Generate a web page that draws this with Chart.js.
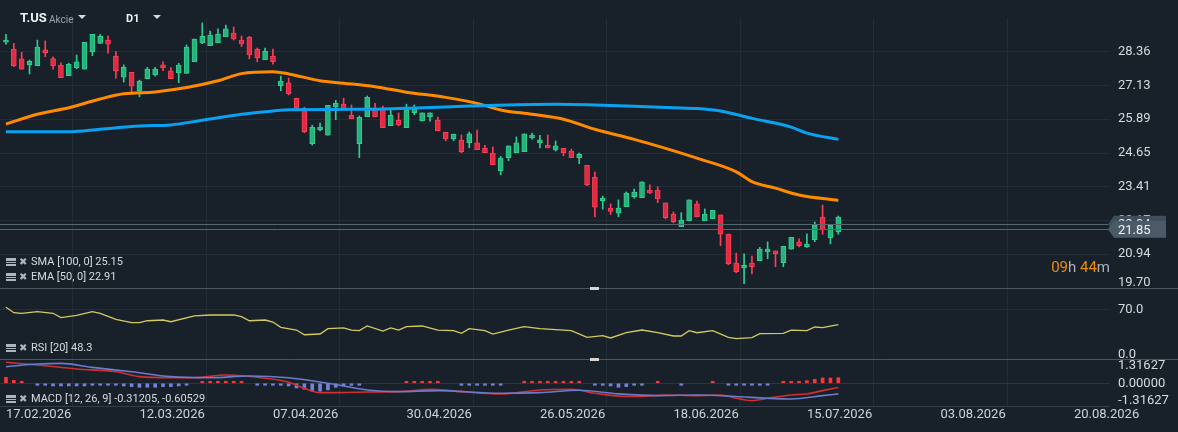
<!DOCTYPE html>
<html>
<head>
<meta charset="utf-8">
<script src="https://cdn.jsdelivr.net/npm/chart.js@4.4.1/dist/chart.umd.min.js"></script>
<style>
  html, body { margin: 0; padding: 0; background: #18212a; }
  #wrap { position: relative; width: 1178px; height: 432px; }
</style>
</head>
<body>
<div id="wrap"><canvas id="chart" width="1178" height="432"></canvas></div>
<script>
// daily candles
const opens  = [28.71,28.46,28.10,27.89,27.85,28.43,28.11,27.87,27.49,27.78,27.72,28.37,28.67,28.79,28.20,27.43,27.61,26.93,27.38,27.51,27.88,27.66,27.60,27.57,28.00,28.70,28.59,28.70,28.92,29.04,28.79,28.89,28.46,28.07,28.20,27.12,27.22,26.66,26.29,24.99,25.50,25.30,26.34,26.44,26.03,24.99,25.98,26.29,26.25,25.65,25.85,25.58,26.13,25.83,25.98,25.86,25.41,25.17,25.12,25.03,25.02,24.82,24.65,24.00,24.48,24.66,24.70,25.21,25.03,24.93,24.76,24.82,24.72,24.48,24.20,23.76,22.90,22.63,22.44,22.68,23.05,23.01,23.29,23.29,22.82,22.41,21.95,22.17,22.79,22.17,22.24,22.38,21.68,20.61,20.44,20.61,20.70,21.03,21.06,20.63,21.12,21.39,21.21,21.47,22.30,21.54,21.76]
const highs  = [29.00,28.67,28.34,28.06,28.79,28.76,28.18,27.96,27.94,28.24,28.71,29.00,29.00,28.95,28.37,27.88,27.61,27.32,27.79,27.79,27.99,27.78,27.94,28.61,28.83,29.42,29.12,29.20,29.34,29.27,28.94,28.93,28.50,28.50,28.46,27.47,27.40,26.66,26.33,25.67,25.75,26.40,26.58,26.66,26.41,26.01,26.74,26.47,26.37,26.23,26.12,26.44,26.41,26.12,26.12,25.97,25.41,25.34,25.31,25.42,25.49,24.93,24.87,24.53,24.91,25.24,25.35,25.38,25.30,25.31,25.09,24.82,24.79,24.65,24.20,23.95,23.07,22.78,22.93,23.22,23.33,23.59,23.48,23.41,22.82,22.49,22.46,22.93,22.89,22.60,22.55,22.38,21.68,20.98,20.95,20.87,21.19,21.39,21.06,21.23,21.56,21.50,21.69,22.12,22.74,22.01,22.34]
const lows   = [28.64,27.82,27.72,27.55,27.85,28.18,27.72,27.41,27.49,27.74,27.72,28.22,28.67,28.31,27.39,27.25,26.88,26.71,27.38,27.47,27.67,27.38,27.23,27.57,28.00,28.66,28.59,28.70,28.92,28.79,28.55,28.10,28.00,28.07,27.91,26.93,26.78,26.26,25.39,24.94,25.46,25.30,25.87,26.28,25.91,24.48,25.98,25.98,25.58,25.65,25.64,25.58,26.05,25.83,25.82,25.47,25.10,25.10,24.66,24.84,24.77,24.66,24.22,23.85,24.37,24.66,24.70,25.16,24.84,24.84,24.72,24.55,24.48,24.26,23.45,22.31,22.59,22.39,22.31,22.68,22.99,23.01,23.16,22.83,22.23,22.09,21.95,22.17,22.31,22.17,22.24,21.25,20.55,20.26,19.86,20.22,20.70,20.77,20.48,20.48,21.12,21.21,21.19,21.40,21.67,21.32,21.67]
const closes = [28.79,27.85,27.72,28.01,28.53,28.33,27.85,27.41,27.90,27.99,28.71,29.00,28.93,28.64,27.67,27.79,27.10,27.29,27.73,27.73,27.78,27.38,27.87,28.53,28.83,28.93,28.97,29.01,29.20,28.83,28.65,28.25,28.15,28.39,28.00,27.29,26.83,26.31,25.43,25.59,25.60,26.40,26.47,26.28,25.91,25.96,26.69,25.98,25.58,26.03,25.68,26.24,26.28,26.12,26.12,25.47,25.17,25.34,24.70,25.35,24.77,24.66,24.22,24.46,24.91,25.02,25.35,25.31,25.13,24.84,24.91,24.66,24.48,24.60,23.49,22.66,23.00,22.51,22.63,23.18,23.22,23.59,23.19,22.97,22.28,22.13,22.19,22.93,22.31,22.41,22.55,21.67,20.59,20.30,20.53,20.48,21.13,21.13,20.96,21.23,21.56,21.25,21.31,22.01,21.83,22.01,22.30]

// SMA 100 and EMA 50, sampled at bar numbers
const smaIdx  = [0, 8, 12, 17, 21, 25, 30, 34, 36, 44, 53, 59, 70, 74, 80, 85, 88, 91, 95, 100, 102, 106]
const smaVals = [25.43,25.43,25.52,25.64,25.68,25.85,26.07,26.19,26.24,26.25,26.31,26.37,26.44,26.42,26.36,26.31,26.28,26.19,25.92,25.60,25.38,25.15]
const emaIdx  = [0, 4, 8, 12, 15, 19, 23, 27, 30, 34, 36, 40, 43, 47, 51, 56, 60, 63, 67, 71, 75, 80, 84, 88, 93, 95, 98, 101, 106]
const emaVals = [25.71,26.07,26.31,26.63,26.82,26.89,27.05,27.30,27.56,27.63,27.55,27.30,27.21,27.08,26.88,26.69,26.47,26.23,26.07,25.89,25.52,25.15,24.82,24.46,23.96,23.60,23.36,23.11,22.91]

// RSI 20
const rsiIdx  = [0,1,2,4,6,7,9,11,12,14,16,17,18,20,21,24,26,29,30,31,33,34,35,37,38,40,41,43,44,45,46,48,49,50,51,53,55,57,58,59,61,62,64,66,68,72,74,76,77,79,81,83,85,86,87,88,90,92,93,95,96,99,100,102,103,104,106]
const rsiVals = [72.8,65.2,64.4,66.6,64.4,58.2,61.5,66.6,64.4,55.9,51.1,51.1,53.9,54.9,52.5,60.6,62.0,62.0,59.6,53.9,54.9,52.1,44.6,40.8,34.2,35.2,42.7,43.7,40.8,39.9,46.5,39.4,43.7,40.8,45.5,46.5,40.8,39.9,36.2,42.7,39.9,35.2,40.8,45.5,42.7,39.9,30.6,33.0,29.6,37.0,40.8,37.0,32.4,32.4,39.9,37.0,39.9,30.6,28.6,30.0,35.6,36.2,40.8,39.9,45.1,44.1,48.3]

// MACD 12/26/9
const macdIdx    = [0,4,9,14,17,21,24,28,33,36,38,40,42,46,50,54,58,63,68,72,75,79,81,84,88,91,93,95,97,100,102,104,106]
const macdVals   = [1.58,1.38,1.08,0.87,0.50,0.42,0.42,0.62,0.38,0.08,-0.38,-0.70,-0.70,-0.65,-0.63,-0.45,-0.63,-0.80,-0.50,-0.45,-0.75,-1.00,-1.00,-0.88,-0.93,-0.88,-1.13,-1.31,-1.13,-0.88,-0.80,-0.55,-0.31]
const signalIdx  = [0,4,7,11,16,21,26,31,36,41,46,50,55,63,68,73,78,83,88,93,97,100,104,106]
const signalVals = [1.25,1.45,1.50,1.20,0.87,0.50,0.42,0.55,0.42,0.00,-0.50,-0.63,-0.55,-0.75,-0.70,-0.52,-0.80,-0.93,-0.88,-1.00,-1.13,-1.18,-0.93,-0.80]
const histVals = [0.45,0.22,0.07,0,-0.05,-0.05,-0.2,-0.2,-0.2,-0.2,-0.2,-0.12,-0.07,-0.07,-0.12,-0.2,-0.25,-0.3,-0.3,-0.3,-0.25,-0.25,-0.2,-0.07,0,0.05,0.07,0.07,0.07,0.05,0.03,0,-0.03,-0.05,-0.07,-0.15,-0.2,-0.35,-0.45,-0.6,-0.6,-0.5,-0.3,-0.2,-0.15,-0.1,0,0,0,0,0,0.05,0.05,0.05,0.07,0.04,0,0,-0.03,-0.03,-0.03,-0.05,-0.05,-0.05,0,0,0.05,0.05,0.05,0.05,0.05,0.05,0.04,0.03,0,-0.1,-0.15,-0.2,-0.3,-0.25,-0.1,-0.03,0,0.03,0,0,-0.03,0,0,0,0.03,0,-0.05,-0.1,-0.1,-0.08,-0.05,-0.03,0,0.05,0.1,0.15,0.2,0.3,0.4,0.4,0.42]

// axes
const dateTickIdx = [0, 17, 34, 51, 68, 85, 102, 119, 136]
const dateLabels  = ['17.02.2026','12.03.2026','07.04.2026','30.04.2026','26.05.2026','18.06.2026','15.07.2026','03.08.2026','20.08.2026']
const priceTicks  = [19.70, 20.94, 22.17, 23.41, 24.65, 25.89, 27.13, 28.36]
const rsiTicks    = [0, 70]
const macdTicks   = [-1.31627, 0, 1.31627]
const quotePrices = [22.04, 21.85]

const UP = '#26b27a', UP_EDGE = '#2fd08f'
const DOWN = '#e02b43', DOWN_EDGE = '#ff3d56'
const GRID = '#232d37'
const SEP = '#4b5661'
const TXT = '#d6dade'

const isUp = closes.map((c, i) => c >= opens[i])

Chart.defaults.font.family = 'Roboto'

const overlay = {
    id: 'overlay',
    afterDraw(chart) {
        const c = chart.ctx
        const area = chart.chartArea
        const yP = chart.scales.y, yR = chart.scales.yRsi, yM = chart.scales.yMacd
        c.save()

        // bid / ask lines
        c.strokeStyle = '#56666f'
        c.lineWidth = 1
        quotePrices.forEach(p => {
            const py = Math.round(yP.getPixelForValue(p)) + 0.5
            c.beginPath(); c.moveTo(area.left, py); c.lineTo(area.right, py); c.stroke()
        })

        // pane separators
        c.strokeStyle = SEP
        ;[yP.bottom, yR.bottom].forEach(b => {
            const py = Math.round(b) + 0.5
            c.beginPath(); c.moveTo(0, py); c.lineTo(chart.width, py); c.stroke()
        })
        c.strokeStyle = '#343f4a'
        c.beginPath(); c.moveTo(0, Math.round(yM.bottom) + 0.5); c.lineTo(area.right, Math.round(yM.bottom) + 0.5); c.stroke()
        c.fillStyle = '#d4d4d4'
        c.fillRect(590, Math.round(yP.bottom) - 1, 9, 3)
        c.fillRect(590, Math.round(yR.bottom) - 1, 9, 3)

        // price tags
        const tagColors = ['#3e4e5a', '#4a5b67']
        quotePrices.forEach((p, k) => {
            const py = yP.getPixelForValue(p)
            c.fillStyle = tagColors[k]
            c.beginPath()
            c.moveTo(area.right - 2, py)
            c.lineTo(area.right + 4, py - 8.5)
            c.lineTo(area.right + 56, py - 8.5)
            c.lineTo(area.right + 56, py + 8.5)
            c.lineTo(area.right + 4, py + 8.5)
            c.closePath()
            c.fill()
            c.fillStyle = '#f2f4f6'
            c.font = '13px Roboto'
            c.textBaseline = 'middle'
            c.textAlign = 'left'
            c.fillText(p.toFixed(2), area.right + 8, py + 1)
        })

        // countdown
        c.font = '15px Roboto'
        c.textBaseline = 'middle'
        const parts = [['09', '#f08c00'], ['h ', '#aab1b8'], ['44', '#f08c00'], ['m', '#aab1b8']]
        let w = parts.reduce((s, q) => s + c.measureText(q[0]).width, 0)
        let x = area.right - w
        parts.forEach(q => { c.fillStyle = q[1]; c.fillText(q[0], x, 268); x += c.measureText(q[0]).width })

        // header
        c.fillStyle = '#eef1f4'
        c.font = 'bold 13px Roboto'
        c.fillText('T.US', 20, 19)
        c.fillStyle = '#9ba3ab'
        c.font = '10px Roboto'
        c.fillText('Akcie', 49, 20)
        c.fillStyle = '#eef1f4'
        c.font = 'bold 11px Roboto'
        c.fillText('D1', 126, 19)
        c.fillStyle = '#d5d9dd'
        ;[78, 153].forEach(tx => {
            c.beginPath(); c.moveTo(tx, 15); c.lineTo(tx + 8, 15); c.lineTo(tx + 4, 19); c.closePath(); c.fill()
        })

        // indicator legends
        const legends = [
            ['SMA [100, 0] 25.15', yP.bottom - 26],
            ['EMA [50, 0] 22.91', yP.bottom - 11],
            ['RSI [20] 48.3', yR.bottom - 11],
            ['MACD [12, 26, 9] -0.31205, -0.60529', yM.bottom - 7],
        ]
        legends.forEach(([s, ly]) => {
            c.fillStyle = '#aeb5bc'
            c.fillRect(6, ly - 4, 10, 3)
            c.fillRect(6, ly, 10, 1)
            c.fillRect(6, ly + 2, 10, 2)
            c.font = 'bold 10px DejaVu Sans'
            c.fillText('\u2716', 19, ly)
            c.fillStyle = TXT
            c.font = '11px Roboto'
            c.fillText(s, 31, ly)
        })
        c.restore()
    }
}

const sideAxis = (extra) => Object.assign({
    type: 'linear',
    position: 'right',
    stack: 'panes',
    border: { display: false },
    afterFit: s => { s.width = 68 },
}, extra)

new Chart(document.getElementById('chart'), {
    type: 'bar',
    data: {
        datasets: [
            {
                label: 'SMA',
                type: 'line',
                data: smaIdx.map((v, i) => ({ x: v, y: smaVals[i] })),
                borderColor: '#0aa2f0',
                borderWidth: 3,
                pointRadius: 0,
                cubicInterpolationMode: 'monotone',
                yAxisID: 'y',
                order: 1,
            },
            {
                label: 'EMA',
                type: 'line',
                data: emaIdx.map((v, i) => ({ x: v, y: emaVals[i] })),
                borderColor: '#ff8a00',
                borderWidth: 3,
                pointRadius: 0,
                cubicInterpolationMode: 'monotone',
                yAxisID: 'y',
                order: 1,
            },
            {
                label: 'wicks',
                data: lows.map((l, i) => ({ x: i, y: [l, highs[i]] })),
                backgroundColor: isUp.map(u => u ? UP_EDGE : DOWN_EDGE),
                barThickness: 1,
                grouped: false,
                yAxisID: 'y',
                order: 3,
            },
            {
                label: 'bodies',
                data: opens.map((o, i) => ({ x: i, y: [o, closes[i]] })),
                backgroundColor: isUp.map(u => u ? UP : DOWN),
                borderColor: isUp.map(u => u ? UP_EDGE : DOWN_EDGE),
                borderWidth: 1,
                borderSkipped: false,
                barThickness: 5,
                minBarLength: 2,
                grouped: false,
                yAxisID: 'y',
                order: 2,
            },
            {
                label: 'RSI',
                type: 'line',
                data: rsiIdx.map((v, i) => ({ x: v, y: rsiVals[i] })),
                borderColor: '#d3cb60',
                borderWidth: 1.3,
                pointRadius: 0,
                yAxisID: 'yRsi',
                order: 1,
            },
            {
                label: 'hist',
                data: histVals.map((v, i) => ({ x: i, y: v === 0 ? null : v })),
                backgroundColor: histVals.map(v => v >= 0 ? '#ff3535' : '#7383dc'),
                barThickness: 3,
                minBarLength: 2,
                grouped: false,
                yAxisID: 'yMacd',
                order: 2,
            },
            {
                label: 'Signal',
                type: 'line',
                data: signalIdx.map((v, i) => ({ x: v, y: signalVals[i] })),
                borderColor: '#6b7bcc',
                borderWidth: 1.6,
                pointRadius: 0,
                cubicInterpolationMode: 'monotone',
                yAxisID: 'yMacd',
                order: 1,
            },
            {
                label: 'MACD',
                type: 'line',
                data: macdIdx.map((v, i) => ({ x: v, y: macdVals[i] })),
                borderColor: '#d0302f',
                borderWidth: 1.6,
                pointRadius: 0,
                cubicInterpolationMode: 'monotone',
                yAxisID: 'yMacd',
                order: 1,
            },
        ],
    },
    options: {
        responsive: false,
        animation: false,
        events: [],
        layout: { padding: { top: 18, left: 0, right: 0, bottom: 0 } },
        plugins: { legend: { display: false }, tooltip: { enabled: false } },
        scales: {
            x: {
                type: 'linear',
                min: -0.76,
                max: 140.6,
                offset: false,
                border: { display: false },
                grid: { color: GRID, drawTicks: false },
                afterBuildTicks: s => { s.ticks = dateTickIdx.map(v => ({ value: v })) },
                afterFit: s => { s.height = 26 },
                ticks: {
                    autoSkip: false,
                    maxRotation: 0,
                    align: 'start',
                    padding: 1,
                    color: '#cdd2d7',
                    font: { size: 13 },
                    callback: (v, i) => dateLabels[i],
                },
            },
            y: sideAxis({
                stackWeight: 270,
                min: 19.70,
                max: 29.60,
                grid: { color: GRID, drawTicks: false },
                afterBuildTicks: s => { s.ticks = priceTicks.map(v => ({ value: v })) },
                ticks: {
                    autoSkip: false,
                    padding: 8,
                    color: TXT,
                    font: ctx => ({ size: 13, lineHeight: ctx.tick && ctx.tick.value === priceTicks[0] ? '10px' : 1.2 }),
                    callback: v => v === priceTicks[0] ? [v.toFixed(2), ''] : v.toFixed(2),
                },
            }),
            yRsi: sideAxis({
                stackWeight: 71,
                min: 0,
                max: 100,
                grid: { color: ctx => ctx.tick && ctx.tick.value === 70 ? GRID : 'rgba(0,0,0,0)', drawTicks: false },
                afterBuildTicks: s => { s.ticks = rsiTicks.map(v => ({ value: v })) },
                ticks: {
                    autoSkip: false,
                    padding: 8,
                    color: TXT,
                    font: ctx => ({ size: 13, lineHeight: ctx.tick && ctx.tick.value === 0 ? '8px' : 1.2 }),
                    callback: v => v === 0 ? ['0.0', ''] : v.toFixed(1),
                },
            }),
            yMacd: sideAxis({
                stackWeight: 47,
                min: -1.71,
                max: 1.83,
                grid: { color: ctx => ctx.tick && ctx.tick.value === 0 ? '#2b3540' : 'rgba(0,0,0,0)', drawTicks: false },
                afterBuildTicks: s => { s.ticks = macdTicks.map(v => ({ value: v })) },
                ticks: {
                    autoSkip: false,
                    padding: 8,
                    color: TXT,
                    font: { size: 13 },
                    callback: v => v.toFixed(5),
                },
            }),
        },
    },
    plugins: [overlay],
})
</script>
</body>
</html>
